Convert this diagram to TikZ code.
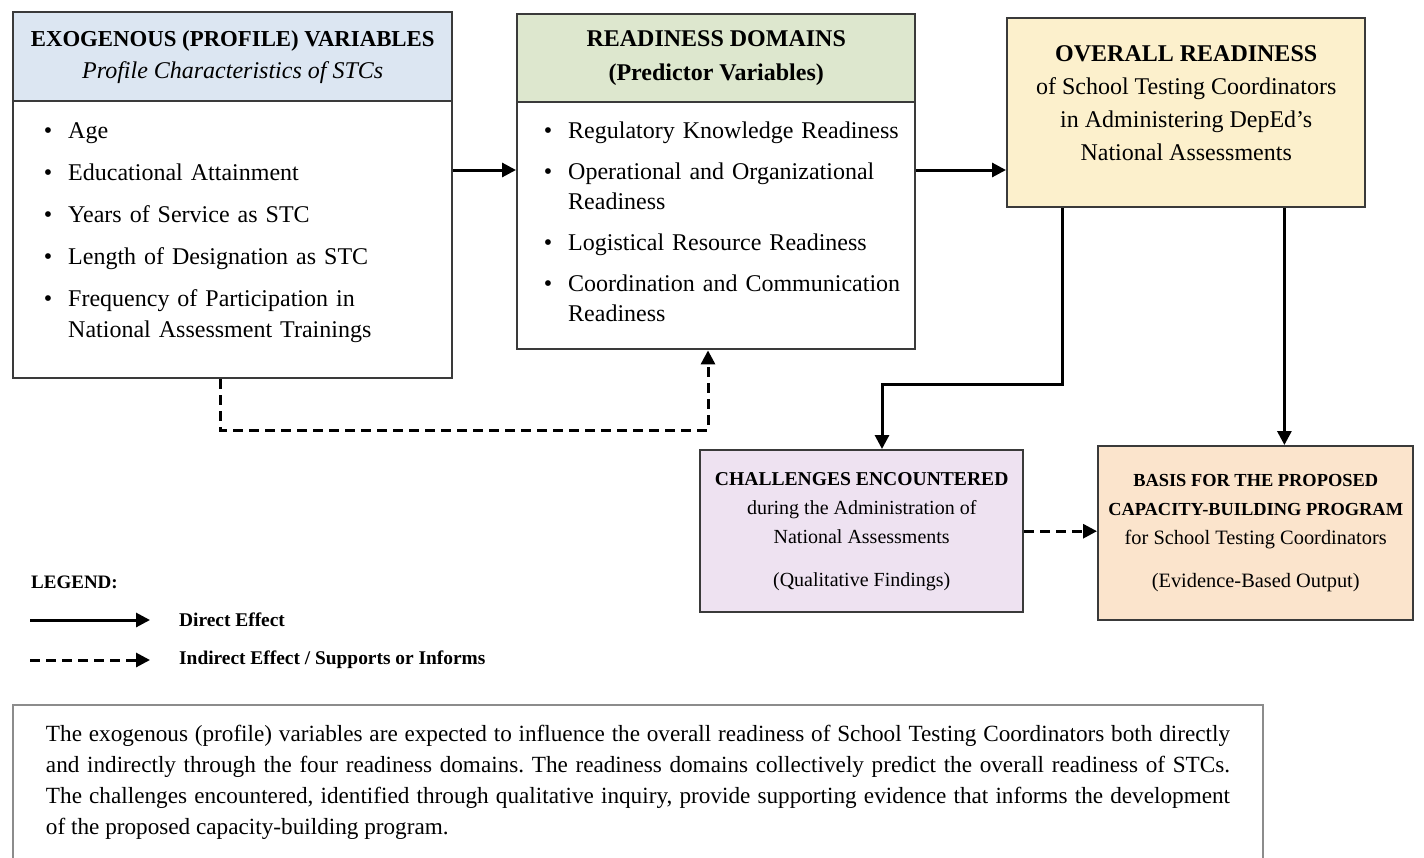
\documentclass[tikz,border=0pt]{standalone}
\usepackage{fontspec}
\setmainfont{Liberation Serif}
\usepackage{enumitem}
\usetikzlibrary{arrows.meta, positioning, calc}
\definecolor{hdblue}{HTML}{DCE6F2}
\definecolor{hdgreen}{HTML}{DDE7CE}
\definecolor{ovyellow}{HTML}{FCF0CC}
\definecolor{chlilac}{HTML}{EEE2F1}
\definecolor{bspeach}{HTML}{FBE4CC}
\definecolor{boxline}{HTML}{3A3A3A}
\definecolor{notegray}{HTML}{8C8C8C}
\newcommand{\fsz}[2]{\fontsize{#1}{#2}\selectfont}

\begin{document}
\begin{tikzpicture}[x=0.5pt, y=-0.5pt, >={Triangle[length=7pt, width=7pt]}, line width=1.2pt]

\tikzset{
  box/.style={draw=boxline, line width=1.2pt, anchor=north west, inner sep=0pt, text=black},
  direct/.style={->, black, line width=1.5pt},
  indirect/.style={direct, dash pattern=on 5pt off 3pt},
  legtxt/.style={anchor=west, inner sep=0pt, font=\fsz{9.7}{12}\bfseries}
}

% Background
\useasboundingbox (0,0) rectangle (1424,857);
\fill[white] (0,0) rectangle (1424,857);

% ── Exogenous variables ──
\node[box, fill=hdblue, minimum width=219.5pt, minimum height=44.5pt,
      align=center, font=\fsz{12}{16}] (exoHead) at (12,11)
  {{\fsz{11.4}{16}\bfseries EXOGENOUS (PROFILE) VARIABLES}\\
   \itshape Profile Characteristics of STCs};
\node[box, minimum width=219.5pt, minimum height=138.5pt, text width=219.5pt,
      font=\fsz{12}{15.5}] (exoBody) at (12,100)
  {\begin{itemize}[leftmargin=27.5pt, labelsep=8pt, itemsep=5.5pt,
                   topsep=0pt, parsep=0pt, partopsep=0pt]
     \item Age
     \item Educational Attainment
     \item Years of Service as STC
     \item Length of Designation as STC
     \item Frequency of Participation in\newline National Assessment Trainings
   \end{itemize}\par\vspace*{15pt}};

% ── Readiness domains ──
\node[box, fill=hdgreen, minimum width=199pt, minimum height=44pt,
      align=center, font=\fsz{12}{17}\bfseries] (domHead) at (516,13)
  {READINESS DOMAINS\\(Predictor Variables)};
\node[box, minimum width=199pt, minimum height=123.5pt, text width=199pt,
      font=\fsz{12}{15}] (domBody) at (516,101)
  {\begin{itemize}[leftmargin=25.5pt, labelsep=8pt, itemsep=5.5pt,
                   topsep=0pt, parsep=0pt, partopsep=0pt]
     \item Regulatory Knowledge Readiness
     \item Operational and Organizational\newline Readiness
     \item Logistical Resource Readiness
     \item Coordination and Communication\newline Readiness
   \end{itemize}\par\vspace*{11pt}};

% ── Overall readiness ──
\node[box, fill=ovyellow, minimum width=179pt, minimum height=94.5pt,
      align=center, text depth=10pt, font=\fsz{12}{16.5}] (overall) at (1006,17)
  {{\bfseries OVERALL READINESS}\\of School Testing Coordinators\\
   in Administering DepEd's\\National Assessments};

% ── Challenges and basis ──
\node[box, fill=chlilac, minimum width=161.5pt, minimum height=81pt,
      align=center, font=\fsz{10}{14.5}] (challenges) at (699,449)
  {{\fsz{9.8}{14.5}\bfseries CHALLENGES ENCOUNTERED}\\during the Administration of\\
   National Assessments\\[7pt](Qualitative Findings)};
\node[box, fill=bspeach, minimum width=157.5pt, minimum height=87pt,
      align=center, font=\fsz{10.2}{14.5}] (basis) at (1097,445)
  {{\fsz{9.2}{14.5}\bfseries BASIS FOR THE PROPOSED}\\
   {\fsz{9.2}{14.5}\bfseries CAPACITY-BUILDING PROGRAM}\\
   for School Testing Coordinators\\[7pt](Evidence-Based Output)};

% ── Connectors ──
\draw[direct] ([yshift=-35pt]exoBody.north east) -- ([yshift=-35pt]exoBody.north east -| domBody.west);
\draw[direct] ([yshift=-34.5pt]domBody.north east) -- ([yshift=-34.5pt]domBody.north east -| overall.west);

\coordinate (elbow) at (882,384);
\draw[direct] ([xshift=28pt]overall.south west) |- (elbow) -- (elbow |- challenges.north);
\coordinate (toBasis) at ([xshift=-41pt]overall.south east);
\draw[direct] (toBasis) -- (toBasis |- basis.north);

\coordinate (dashLow) at (708,430);
\draw[indirect] ([xshift=104pt]exoBody.south west) |- (dashLow) -- (dashLow |- domBody.south);
\draw[indirect] (challenges.east) -- (challenges.east -| basis.west);

% ── Legend ──
\node[legtxt, font=\fsz{9.5}{12}\bfseries] (legTitle) at (30,582) {LEGEND:};
\node[legtxt] (legDirect) at (178,620) {Direct Effect};
\node[legtxt] (legIndirect) at (178,660) {Indirect Effect / Supports or Informs};
\coordinate (legDirectFrom) at (30,620);
\coordinate (legIndirectFrom) at (30,660);
\draw[direct] (legDirectFrom) -- ([xshift=-14pt]legDirect.west);
\draw[indirect] (legIndirectFrom) -- ([xshift=-14pt]legIndirect.west);

% ── Summary note (runs past the lower edge) ──
\node[draw=notegray, line width=1pt, anchor=north west, inner xsep=16.5pt,
      inner ysep=10pt] (note) at (12,704)
  {\parbox[c][120pt][t]{592pt}{\fsz{11.6}{15.5}\frenchspacing
   The exogenous (profile) variables are expected to influence the overall readiness of School Testing Coordinators both directly\linebreak
   and indirectly through the four readiness domains. The readiness domains collectively predict the overall readiness of STCs.\linebreak
   The challenges encountered, identified through qualitative inquiry, provide supporting evidence that informs the development\linebreak
   of the proposed capacity-building program.}};

\end{tikzpicture}
\end{document}
